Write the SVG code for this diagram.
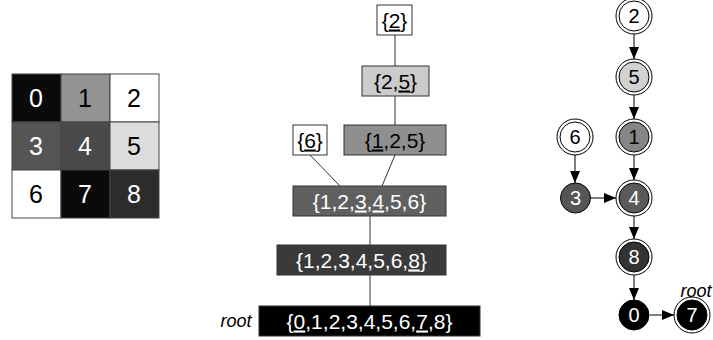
<svg xmlns="http://www.w3.org/2000/svg" width="713" height="340" viewBox="0 0 713 340">
<style>
text{font-family:"Liberation Sans",Arial,sans-serif;text-anchor:middle}
.g{font-size:25px}
.t{font-size:21px}
.n{font-size:20px}
.w{fill:#fff}
.k{fill:#000}
.cell{stroke:#444;stroke-width:1}
.box{stroke:#333;stroke-width:1}
.ln{stroke:#333;stroke-width:1;fill:none}
.ar{stroke:#000;stroke-width:1;fill:none;marker-end:url(#ah)}
.ring{fill:#fff;stroke:#000;stroke-width:1}
.in{stroke:#000;stroke-width:1}
.u{text-decoration:underline}
.lbl{font-size:18px;font-style:italic}
</style>
<defs>
<marker id="ah" markerUnits="userSpaceOnUse" markerWidth="12" markerHeight="10" refX="12" refY="5" orient="auto">
<path d="M0,0 L12,5 L0,10 z" fill="#000"/>
</marker>
</defs>
<g id="grid">
<rect class="cell" x="12" y="74" width="49" height="48" fill="#0a0a0a"/>
<rect class="cell" x="61" y="74" width="49" height="48" fill="#939393"/>
<rect class="cell" x="110" y="74" width="49" height="48" fill="#fff"/>
<rect class="cell" x="12" y="122" width="49" height="48" fill="#555"/>
<rect class="cell" x="61" y="122" width="49" height="48" fill="#4a4a4a"/>
<rect class="cell" x="110" y="122" width="49" height="48" fill="#dcdcdc"/>
<rect class="cell" x="12" y="170" width="49" height="48" fill="#fff"/>
<rect class="cell" x="61" y="170" width="49" height="48" fill="#0a0a0a"/>
<rect class="cell" x="110" y="170" width="49" height="48" fill="#2c2c2c"/>
<text class="g w" x="36" y="107">0</text>
<text class="g k" x="85" y="107">1</text>
<text class="g k" x="134" y="107">2</text>
<text class="g w" x="36" y="155">3</text>
<text class="g w" x="85" y="155">4</text>
<text class="g k" x="134" y="155">5</text>
<text class="g k" x="36" y="203">6</text>
<text class="g w" x="85" y="203">7</text>
<text class="g w" x="134" y="203">8</text>
</g>
<g id="tree-edges">
<line class="ln" x1="395" y1="35" x2="395" y2="66"/>
<line class="ln" x1="395" y1="96" x2="395" y2="125"/>
<line class="ln" x1="310" y1="155" x2="340" y2="186"/>
<line class="ln" x1="395" y1="155" x2="382" y2="186"/>
<line class="ln" x1="370" y1="216" x2="370" y2="245"/>
<line class="ln" x1="370" y1="275" x2="370" y2="306"/>
</g>
<g id="t2"><rect class="box" x="377" y="5" width="35" height="30" fill="#fff"/><text class="t k" x="394.5" y="27.5">{<tspan class="u">2</tspan>}</text></g>
<g id="t25"><rect class="box" x="362" y="66" width="67" height="30" fill="#cbcbcb"/><text class="t k" x="395.5" y="88.5">{2,<tspan class="u">5</tspan>}</text></g>
<g id="t6"><rect class="box" x="293" y="125" width="34" height="30" fill="#fff"/><text class="t k" x="310" y="147.5">{<tspan class="u">6</tspan>}</text></g>
<g id="t125"><rect class="box" x="344" y="125" width="102" height="30" fill="#8f8f8f"/><text class="t k" x="395" y="147.5">{<tspan class="u">1</tspan>,2,5}</text></g>
<g id="t123456"><rect class="box" x="293" y="186" width="153" height="30" fill="#606060"/><text class="t w" x="369.5" y="208.5">{1,2,<tspan class="u">3</tspan>,<tspan class="u">4</tspan>,5,6}</text></g>
<g id="t1234568"><rect class="box" x="277" y="245" width="169" height="30" fill="#3a3a3a"/><text class="t w" x="361.5" y="267.5">{1,2,3,4,5,6,<tspan class="u">8</tspan>}</text></g>
<g id="troot"><rect class="box" x="259" y="306" width="221" height="30" fill="#000"/><text class="t w" x="369.5" y="328.5">{<tspan class="u">0</tspan>,1,2,3,4,5,6,<tspan class="u">7</tspan>,8}</text><text class="lbl k" x="236" y="327">root</text></g>
<g id="graph-edges">
<line class="ar" x1="634" y1="34" x2="634" y2="59"/>
<line class="ar" x1="634" y1="95" x2="634" y2="119"/>
<line class="ar" x1="634" y1="155" x2="634" y2="180"/>
<line class="ar" x1="575" y1="155" x2="575" y2="183"/>
<line class="ar" x1="591" y1="198" x2="616" y2="198"/>
<line class="ar" x1="634" y1="216" x2="634" y2="239"/>
<line class="ar" x1="634" y1="275" x2="634" y2="300"/>
<line class="ar" x1="650" y1="315" x2="674" y2="315"/>
</g>
<g id="n2"><circle class="ring" cx="634" cy="16" r="18"/><circle class="in" cx="634" cy="16" r="15" fill="#fff"/><text class="n k" x="634" y="23">2</text></g>
<g id="n5"><circle class="ring" cx="634" cy="77" r="18"/><circle class="in" cx="634" cy="77" r="15" fill="#d2d2d2"/><text class="n k" x="634" y="84">5</text></g>
<g id="n1"><circle class="ring" cx="634" cy="137" r="18"/><circle class="in" cx="634" cy="137" r="15" fill="#868686"/><text class="n k" x="634" y="144">1</text></g>
<g id="n6"><circle class="ring" cx="575" cy="137" r="18"/><circle class="in" cx="575" cy="137" r="15" fill="#fff"/><text class="n k" x="575" y="144">6</text></g>
<g id="n3"><circle class="in" cx="575.5" cy="198" r="15" fill="#555"/><text class="n w" x="575.5" y="205">3</text></g>
<g id="n4"><circle class="ring" cx="634" cy="198" r="18"/><circle class="in" cx="634" cy="198" r="15" fill="#5a5a5a"/><text class="n w" x="634" y="205">4</text></g>
<g id="n8"><circle class="ring" cx="634" cy="257" r="18"/><circle class="in" cx="634" cy="257" r="15" fill="#333"/><text class="n w" x="634" y="264">8</text></g>
<g id="n0"><circle class="in" cx="634" cy="315" r="15" fill="#000"/><text class="n w" x="634" y="322">0</text></g>
<g id="n7"><circle class="ring" cx="692" cy="315" r="18"/><circle class="in" cx="692" cy="315" r="15" fill="#000"/><text class="n w" x="692" y="322">7</text><text class="lbl k" x="696" y="297">root</text></g>
</svg>
